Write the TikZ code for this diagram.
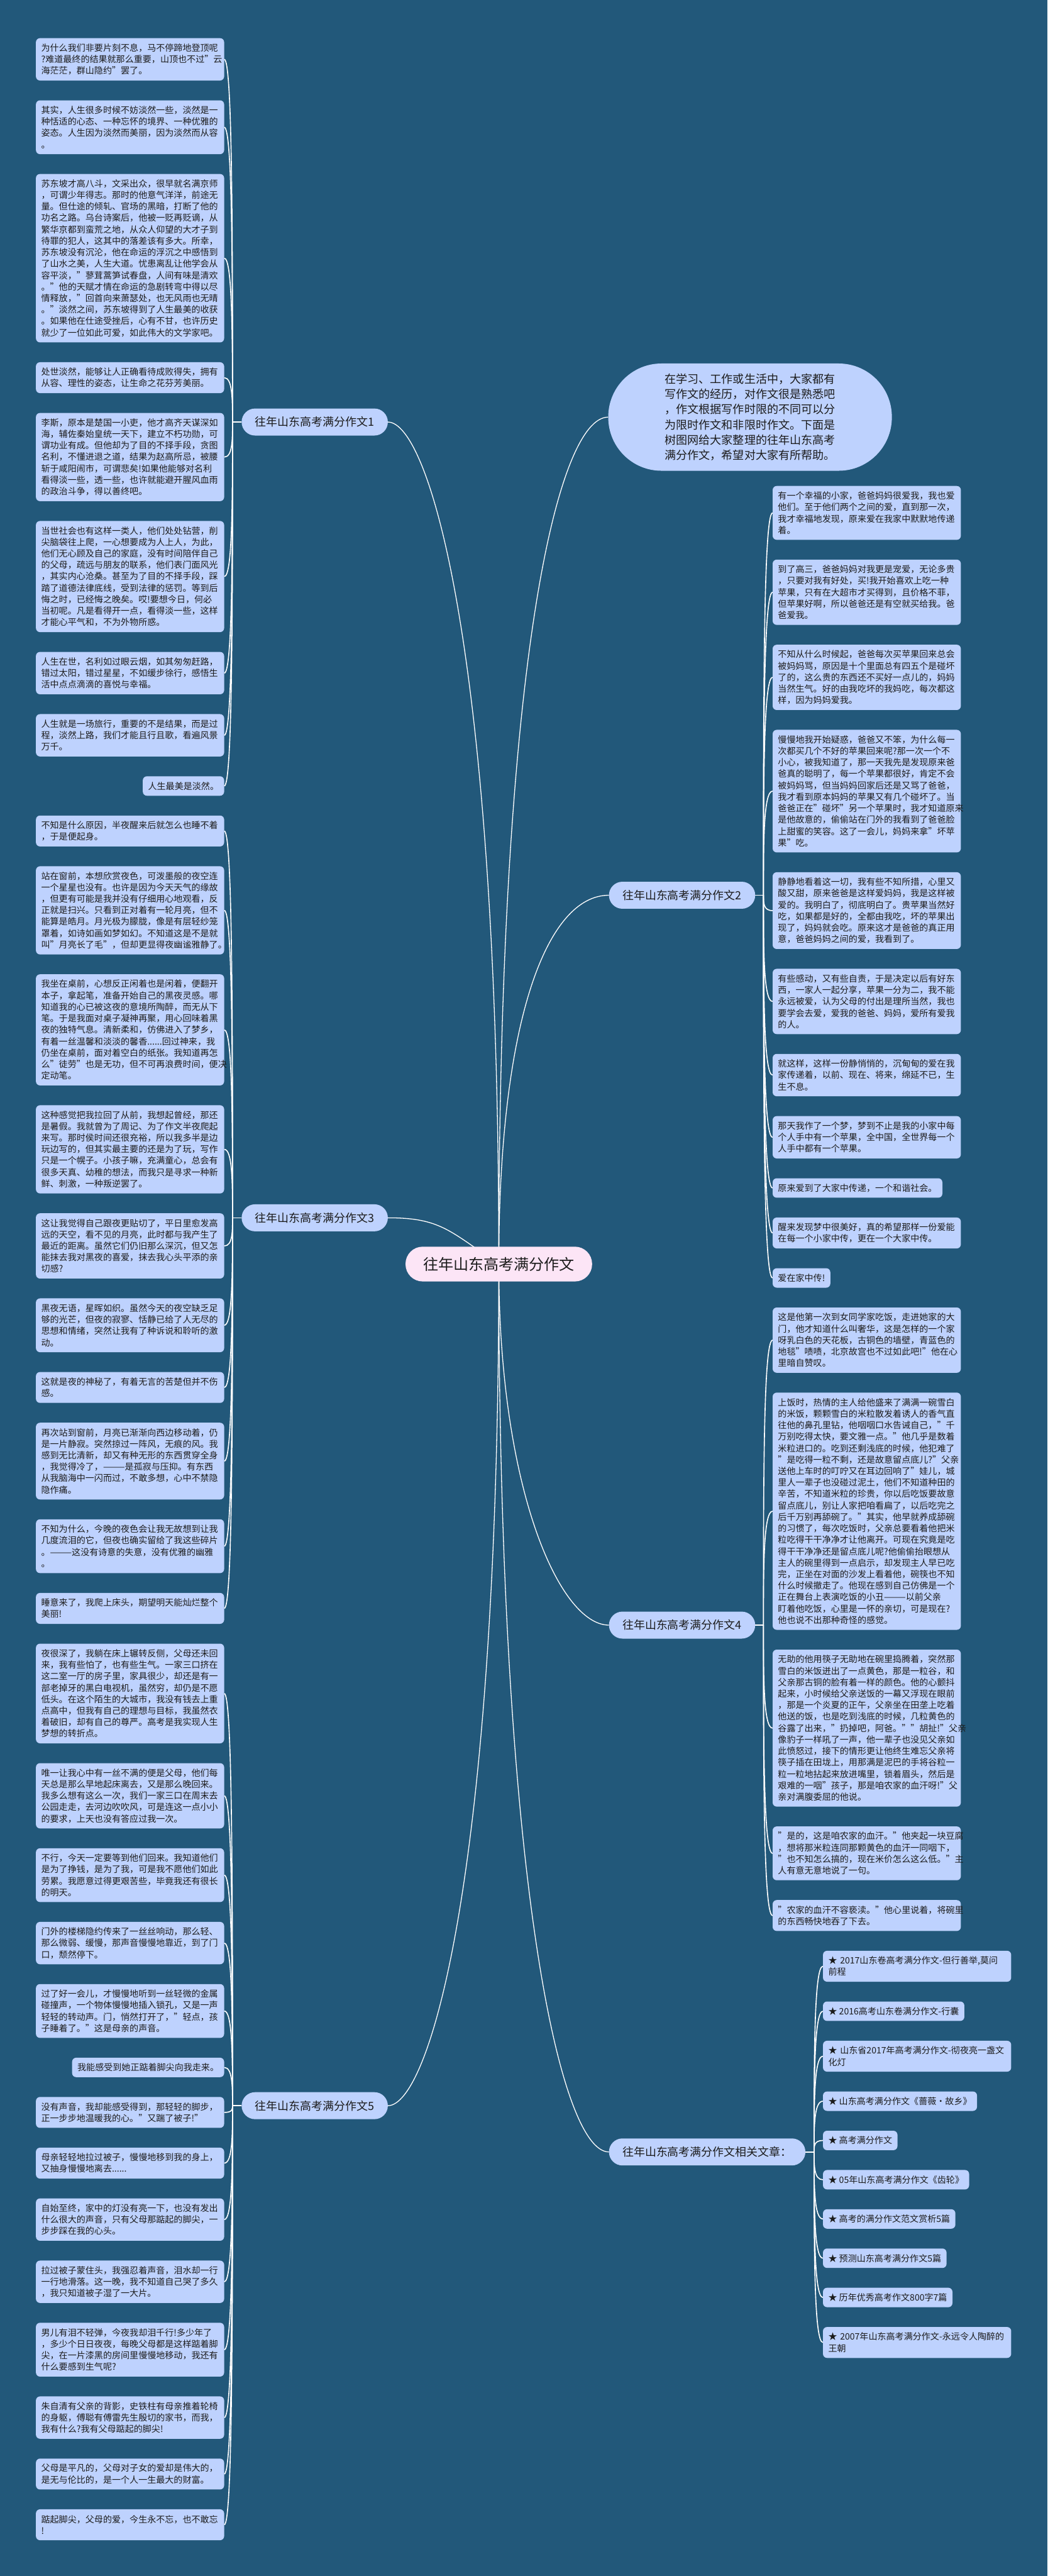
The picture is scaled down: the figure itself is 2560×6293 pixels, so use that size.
\documentclass[tikz,border=0pt]{standalone}
\usepackage{fontspec}
\setmainfont{Noto Sans CJK SC}
\usepackage{tikz}
\usetikzlibrary{positioning,calc}
\definecolor{pageblue}{RGB}{34,88,122}
\definecolor{cardblue}{RGB}{190,210,254}
\definecolor{rootpink}{RGB}{252,229,246}
\definecolor{inkgray}{RGB}{28,28,28}
\pgfdeclarelayer{bg}
\pgfdeclarelayer{wires}
\pgfsetlayers{bg,wires,main}
\tikzset{
	card/.style={fill=cardblue, text=inkgray, rounded corners=10pt, inner xsep=13pt, inner ysep=0pt, align=left, font=\fontsize{21.6}{28}\selectfont},
	leaf/.style={card, text width=434pt, minimum height=28pt*#1+19.5pt},
	short/.style={card, minimum height=47.5pt},
	nextL/.style={below=48pt of #1.south east, anchor=north east},
	nextR/.style={below=48pt of #1.south west, anchor=north west},
	branch/.style={fill=cardblue, text=inkgray, rounded corners=32.9pt, minimum height=66pt, inner xsep=33pt, font=\fontsize{27.6}{33}\selectfont},
	hub/.style={fill=rootpink, text=inkgray, rounded corners=42pt, minimum height=85pt, inner xsep=43pt, font=\fontsize{37}{44}\selectfont},
	intro/.style={fill=cardblue, text=inkgray, rounded corners=130pt, minimum width=693pt, minimum height=262pt, text width=417pt, align=left, font=\fontsize{27.8}{37}\selectfont},
	wire/.style={color=white, line width=2.5pt},
	trunk/.style={color=white, line width=2pt},
	hook/.style={to path={.. controls ($(\tikztostart)!.5!(\tikztostart |- \tikztotarget)$) and (\tikztostart |- \tikztotarget) .. (\tikztotarget)}}
}
\begin{document}
\begin{tikzpicture}[x=1pt,y=-1pt]
	\useasboundingbox (0,0) rectangle (2560,6293);
	\begin{pgfonlayer}{bg}
		\fill[pageblue] (0,0) rectangle (2560,6293);
	\end{pgfonlayer}

	% centre and main branches
	\node[hub] (core) at (1219,3088) {往年山东高考满分作文};
	\node[intro] (intro) at (1833,1019) {在学习、工作或生活中，大家都有\\写作文的经历，对作文很是熟悉吧\\，作文根据写作时限的不同可以分\\为限时作文和非限时作文。下面是\\树图网给大家整理的往年山东高考\\满分作文，希望对大家有所帮助。};
	\node[branch, anchor=east] (b1) at (948,1031) {往年山东高考满分作文1};
	\node[branch, anchor=east] (b3) at (948,2975) {往年山东高考满分作文3};
	\node[branch, anchor=east] (b5) at (948,5144) {往年山东高考满分作文5};
	\node[branch, anchor=west] (b2) at (1488,2187) {往年山东高考满分作文2};
	\node[branch, anchor=west] (b4) at (1488,3970) {往年山东高考满分作文4};
	\node[branch, anchor=west] (bL) at (1488,5257) {往年山东高考满分作文相关文章：};
	\coordinate[left=22pt of b1] (j1);
	\coordinate[left=22pt of b3] (j3);
	\coordinate[left=22pt of b5] (j5);
	\coordinate[right=20pt of b2] (j2);
	\coordinate[right=20pt of b4] (j4);
	\coordinate[right=21pt of bL] (jL);

	% essay 1
	\node[leaf=3, anchor=north east] (l1a) at (548,93) {为什么我们非要片刻不息，马不停蹄地登顶呢\\?难道最终的结果就那么重要，山顶也不过"云\\海茫茫，群山隐约"罢了。};
	\node[leaf=4, nextL=l1a] (l1b) {其实，人生很多时候不妨淡然一些，淡然是一\\种恬适的心态、一种忘怀的境界、一种优雅的\\姿态。人生因为淡然而美丽，因为淡然而从容\\。};
	\node[leaf=14, nextL=l1b] (l1c) {苏东坡才高八斗，文采出众，很早就名满京师\\，可谓少年得志。那时的他意气洋洋，前途无\\量。但仕途的倾轧、官场的黑暗，打断了他的\\功名之路。乌台诗案后，他被一贬再贬谪，从\\繁华京都到蛮荒之地，从众人仰望的大才子到\\待罪的犯人，这其中的落差该有多大。所幸，\\苏东坡没有沉沦，他在命运的浮沉之中感悟到\\了山水之美，人生大道。忧患离乱让他学会从\\容平淡，"蓼茸蒿笋试春盘，人间有味是清欢\\。"他的天赋才情在命运的急剧转弯中得以尽\\情释放，"回首向来萧瑟处，也无风雨也无晴\\。"淡然之间，苏东坡得到了人生最美的收获\\。如果他在仕途受挫后，心有不甘，也许历史\\就少了一位如此可爱，如此伟大的文学家吧。};
	\node[leaf=2, nextL=l1c] (l1d) {处世淡然，能够让人正确看待成败得失，拥有\\从容、理性的姿态，让生命之花芬芳美丽。};
	\node[leaf=7, nextL=l1d] (l1e) {李斯，原本是楚国一小吏，他才高齐天谋深如\\海，辅佐秦始皇统一天下，建立不朽功勋，可\\谓功业有成。但他却为了目的不择手段，贪图\\名利，不懂进退之道，结果为赵高所忌，被腰\\斩于咸阳闹市，可谓悲矣!如果他能够对名利\\看得淡一些，透一些，也许就能避开腥风血雨\\的政治斗争，得以善终吧。};
	\node[leaf=9, nextL=l1e] (l1f) {当世社会也有这样一类人，他们处处钻营，削\\尖脑袋往上爬，一心想要成为人上人，为此，\\他们无心顾及自己的家庭，没有时间陪伴自己\\的父母，疏远与朋友的联系，他们表门面风光\\，其实内心沧桑。甚至为了目的不择手段，踩\\踏了道德法律底线，受到法律的惩罚。等到后\\悔之时，已经悔之晚矣。哎!要想今日，何必\\当初呢。凡是看得开一点，看得淡一些，这样\\才能心平气和，不为外物所惑。};
	\node[leaf=3, nextL=l1f] (l1g) {人生在世，名利如过眼云烟，如其匆匆赶路，\\错过太阳，错过星星，不如缓步徐行，感悟生\\活中点点滴滴的喜悦与幸福。};
	\node[leaf=3, nextL=l1g] (l1h) {人生就是一场旅行，重要的不是结果，而是过\\程，淡然上路，我们才能且行且歌，看遍风景\\万千。};
	\node[short, nextL=l1h] (l1i) {人生最美是淡然。};

	% essay 3
	\node[leaf=2, nextL=l1i] (l3a) {不知是什么原因，半夜醒来后就怎么也睡不着\\，于是便起身。};
	\node[leaf=7, nextL=l3a] (l3b) {站在窗前，本想欣赏夜色，可泼墨般的夜空连\\一个星星也没有。也许是因为今天天气的缘故\\，但更有可能是我并没有仔细用心地观看，反\\正就是扫兴。只看到正对着有一轮月亮，但不\\能算是皓月。月光极为朦胧，像是有层轻纱笼\\罩着，如诗如画如梦如幻。不知道这是不是就\\叫"月亮长了毛"，但却更显得夜幽谧雅静了。};
	\node[leaf=9, nextL=l3b] (l3c) {我坐在桌前，心想反正闲着也是闲着，便翻开\\本子，拿起笔，准备开始自己的黑夜灵感。哪\\知道我的心已被这夜的意境所陶醉，而无从下\\笔。于是我面对桌子凝神再聚，用心回味着黑\\夜的独特气息。清新柔和，仿佛进入了梦乡，\\有着一丝温馨和淡淡的馨香......回过神来，我\\仍坐在桌前，面对着空白的纸张。我知道再怎\\么"徒劳"也是无功，但不可再浪费时间，便决\\定动笔。};
	\node[leaf=7, nextL=l3c] (l3d) {这种感觉把我拉回了从前，我想起曾经，那还\\是暑假。我就曾为了周记、为了作文半夜爬起\\来写。那时侯时间还很充裕，所以我多半是边\\玩边写的，但其实最主要的还是为了玩，写作\\只是一个幌子。小孩子嘛，充满童心，总会有\\很多天真、幼稚的想法，而我只是寻求一种新\\鲜、刺激，一种叛逆罢了。};
	\node[leaf=5, nextL=l3d] (l3e) {这让我觉得自己跟夜更贴切了，平日里愈发高\\远的天空，看不见的月亮，此时都与我产生了\\最近的距离。虽然它们仍旧那么深沉，但又怎\\能抹去我对黑夜的喜爱，抹去我心头平添的亲\\切感?};
	\node[leaf=4, nextL=l3e] (l3f) {黑夜无语，星晖如织。虽然今天的夜空缺乏足\\够的光芒，但夜的寂寥、恬静已给了人无尽的\\思想和情绪，突然让我有了种诉说和聆听的激\\动。};
	\node[leaf=2, nextL=l3f] (l3g) {这就是夜的神秘了，有着无言的苦楚但并不伤\\感。};
	\node[leaf=6, nextL=l3g] (l3h) {再次站到窗前，月亮已渐渐向西边移动着，仍\\是一片静寂。突然掠过一阵风，无痕的风。我\\感到无比清新，却又有种无形的东西贯穿全身\\，我觉得冷了，———是孤寂与压抑。有东西\\从我脑海中一闪而过，不敢多想，心中不禁隐\\隐作痛。};
	\node[leaf=4, nextL=l3h] (l3i) {不知为什么，今晚的夜色会让我无故想到让我\\几度流泪的它，但夜也确实留给了我这些碎片\\。———这没有诗意的失意，没有优雅的幽雅\\。};
	\node[leaf=2, nextL=l3i] (l3j) {睡意来了，我爬上床头，期望明天能灿烂整个\\美丽!};

	% essay 5
	\node[leaf=8, nextL=l3j] (l5a) {夜很深了，我躺在床上辗转反侧，父母还未回\\来，我有些怕了，也有些生气。一家三口挤在\\这二室一厅的房子里，家具很少，却还是有一\\部老掉牙的黑白电视机，虽然穷，却仍是不愿\\低头。在这个陌生的大城市，我没有钱去上重\\点高中，但我有自己的理想与目标，我虽然衣\\着破旧，却有自己的尊严。高考是我实现人生\\梦想的转折点。};
	\node[leaf=5, nextL=l5a] (l5b) {唯一让我心中有一丝不满的便是父母，他们每\\天总是那么早地起床离去，又是那么晚回来。\\我多么想有这么一次，我们一家三口在周末去\\公园走走，去河边吹吹风，可是连这一点小小\\的要求，上天也没有答应过我一次。};
	\node[leaf=4, nextL=l5b] (l5c) {不行，今天一定要等到他们回来。我知道他们\\是为了挣钱，是为了我，可是我不愿他们如此\\劳累。我愿意过得更艰苦些，毕竟我还有很长\\的明天。};
	\node[leaf=3, nextL=l5c] (l5d) {门外的楼梯隐约传来了一丝丝响动，那么轻、\\那么微弱、缓慢，那声音慢慢地靠近，到了门\\口，颓然停下。};
	\node[leaf=4, nextL=l5d] (l5e) {过了好一会儿，才慢慢地听到一丝轻微的金属\\碰撞声，一个物体慢慢地插入锁孔，又是一声\\轻轻的转动声。门，悄然打开了，"轻点，孩\\子睡着了。"这是母亲的声音。};
	\node[short, nextL=l5e] (l5f) {我能感受到她正踮着脚尖向我走来。};
	\node[leaf=2, nextL=l5f] (l5g) {没有声音，我却能感受得到，那轻轻的脚步，\\正一步步地温暖我的心。"又踹了被子!"};
	\node[leaf=2, nextL=l5g] (l5h) {母亲轻轻地拉过被子，慢慢地移到我的身上，\\又抽身慢慢地离去......};
	\node[leaf=3, nextL=l5h] (l5i) {自始至终，家中的灯没有亮一下，也没有发出\\什么很大的声音，只有父母那踮起的脚尖，一\\步步踩在我的心头。};
	\node[leaf=3, nextL=l5i] (l5j) {拉过被子蒙住头，我强忍着声音，泪水却一行\\一行地滑落。这一晚，我不知道自己哭了多久\\，我只知道被子湿了一大片。};
	\node[leaf=4, nextL=l5j] (l5k) {男儿有泪不轻弹，今夜我却泪千行!多少年了\\，多少个日日夜夜，每晚父母都是这样踮着脚\\尖，在一片漆黑的房间里慢慢地移动，我还有\\什么要感到生气呢?};
	\node[leaf=3, nextL=l5k] (l5l) {朱自清有父亲的背影，史铁柱有母亲推着轮椅\\的身躯，傅聪有傅雷先生殷切的家书，而我，\\我有什么?我有父母踮起的脚尖!};
	\node[leaf=2, nextL=l5l] (l5m) {父母是平凡的，父母对子女的爱却是伟大的，\\是无与伦比的，是一个人一生最大的财富。};
	\node[leaf=2, nextL=l5m] (l5n) {踮起脚尖，父母的爱，今生永不忘，也不敢忘\\!};

	% essay 2
	\node[leaf=4, anchor=north west] (r2a) at (1888,1187) {有一个幸福的小家，爸爸妈妈很爱我，我也爱\\他们。至于他们两个之间的爱，直到那一次，\\我才幸福地发现，原来爱在我家中默默地传递\\着。};
	\node[leaf=5, nextR=r2a] (r2b) {到了高三，爸爸妈妈对我更是宠爱，无论多贵\\，只要对我有好处，买!我开始喜欢上吃一种\\苹果，只有在大超市才买得到，且价格不菲，\\但苹果好啊，所以爸爸还是有空就买给我。爸\\爸爱我。};
	\node[leaf=5, nextR=r2b] (r2c) {不知从什么时候起，爸爸每次买苹果回来总会\\被妈妈骂，原因是十个里面总有四五个是碰坏\\了的，这么贵的东西还不买好一点儿的，妈妈\\当然生气。好的由我吃坏的我妈吃，每次都这\\样，因为妈妈爱我。};
	\node[leaf=10, nextR=r2c] (r2d) {慢慢地我开始疑惑，爸爸又不笨，为什么每一\\次都买几个不好的苹果回来呢?那一次一个不\\小心，被我知道了，那一天我先是发现原来爸\\爸真的聪明了，每一个苹果都很好，肯定不会\\被妈妈骂，但当妈妈回家后还是又骂了爸爸，\\我才看到原本妈妈的苹果又有几个碰坏了。当\\爸爸正在"碰坏"另一个苹果时，我才知道原来\\是他故意的，偷偷站在门外的我看到了爸爸脸\\上甜蜜的笑容。这了一会儿，妈妈来拿"坏苹\\果"吃。};
	\node[leaf=6, nextR=r2d] (r2e) {静静地看着这一切，我有些不知所措，心里又\\酸又甜，原来爸爸是这样爱妈妈，我是这样被\\爱的。我明白了，彻底明白了。贵苹果当然好\\吃，如果都是好的，全都由我吃，坏的苹果出\\现了，妈妈就会吃。原来这才是爸爸的真正用\\意，爸爸妈妈之间的爱，我看到了。};
	\node[leaf=5, nextR=r2e] (r2f) {有些感动，又有些自责，于是决定以后有好东\\西，一家人一起分享，苹果一分为二，我不能\\永远被爱，认为父母的付出是理所当然，我也\\要学会去爱，爱我的爸爸、妈妈，爱所有爱我\\的人。};
	\node[leaf=3, nextR=r2f] (r2g) {就这样，这样一份静悄悄的，沉甸甸的爱在我\\家传递着，以前、现在、将来，绵延不已，生\\生不息。};
	\node[leaf=3, nextR=r2g] (r2h) {那天我作了一个梦，梦到不止是我的小家中每\\个人手中有一个苹果，全中国，全世界每一个\\人手中都有一个苹果。};
	\node[short, nextR=r2h] (r2i) {原来爱到了大家中传递，一个和谐社会。};
	\node[leaf=2, nextR=r2i] (r2j) {醒来发现梦中很美好，真的希望那样一份爱能\\在每一个小家中传，更在一个大家中传。};
	\node[short, nextR=r2j] (r2k) {爱在家中传!};

	% essay 4
	\node[leaf=5, nextR=r2k] (r4a) {这是他第一次到女同学家吃饭，走进她家的大\\门，他才知道什么叫奢华，这是怎样的一个家\\呀乳白色的天花板，古铜色的墙壁，青蓝色的\\地毯"啧啧，北京故宫也不过如此吧!"他在心\\里暗自赞叹。};
	\node[leaf=20, nextR=r4a] (r4b) {上饭时，热情的主人给他盛来了满满一碗雪白\\的米饭，颗颗雪白的米粒散发着诱人的香气直\\往他的鼻孔里钻，他咽咽口水告诫自己，"千\\万别吃得太快，要文雅一点。"他几乎是数着\\米粒进口的。吃到还剩浅底的时候，他犯难了\\"是吃得一粒不剩，还是故意留点底儿?"父亲\\送他上车时的叮咛又在耳边回响了"娃儿，城\\里人一辈子也没碰过泥土，他们不知道种田的\\辛苦，不知道米粒的珍贵，你以后吃饭要故意\\留点底儿，别让人家把咱看扁了，以后吃完之\\后千万别再舔碗了。"其实，他早就养成舔碗\\的习惯了，每次吃饭时，父亲总要看着他把米\\粒吃得干干净净才让他离开。可现在究竟是吃\\得干干净净还是留点底儿呢?他偷偷抬眼想从\\主人的碗里得到一点启示，却发现主人早已吃\\完，正坐在对面的沙发上看着他，碗筷也不知\\什么时候撤走了。他现在感到自己仿佛是一个\\正在舞台上表演吃饭的小丑———以前父亲\\盯着他吃饭，心里是一怀的亲切，可是现在?\\他也说不出那种奇怪的感觉。};
	\node[leaf=13, nextR=r4b] (r4c) {无助的他用筷子无助地在碗里捣腾着，突然那\\雪白的米饭迸出了一点黄色，那是一粒谷，和\\父亲那古铜的脸有着一样的颜色。他的心颤抖\\起来，小时候给父亲送饭的一幕又浮现在眼前\\，那是一个炎夏的正午，父亲坐在田垄上吃着\\他送的饭，也是吃到浅底的时候，几粒黄色的\\谷露了出来，"扔掉吧，阿爸。""胡扯!"父亲\\像豹子一样吼了一声，他一辈子也没见父亲如\\此愤怒过，接下的情形更让他终生难忘父亲将\\筷子插在田垅上，用那满是泥巴的手将谷粒一\\粒一粒地拈起来放进嘴里，锁着眉头，然后是\\艰难的一咽"孩子，那是咱农家的血汗呀!"父\\亲对满腹委屈的他说。};
	\node[leaf=4, nextR=r4c] (r4d) {"是的，这是咱农家的血汗。"他夹起一块豆腐\\，想将那米粒连同那颗黄色的血汗一同咽下，\\"也不知怎么搞的，现在米价怎么这么低。"主\\人有意无意地说了一句。};
	\node[leaf=2, nextR=r4d] (r4e) {"农家的血汗不容亵渎。"他心里说着，将碗里\\的东西畅快地吞了下去。};

	% related articles
	\node[leaf=2, below right=48pt and 123pt of r4e.south west, anchor=north west] (rLa) {★~2017山东卷高考满分作文-但行善举,莫问\\前程};
	\node[short, nextR=rLa] (rLb) {★~2016高考山东卷满分作文-行囊};
	\node[leaf=2, nextR=rLb] (rLc) {★~山东省2017年高考满分作文-彻夜亮一盏文\\化灯};
	\node[short, nextR=rLc] (rLd) {★~山东高考满分作文《蔷薇·故乡》};
	\node[short, nextR=rLd] (rLe) {★~高考满分作文};
	\node[short, nextR=rLe] (rLf) {★~05年山东高考满分作文《齿轮》};
	\node[short, nextR=rLf] (rLg) {★~高考的满分作文范文赏析5篇};
	\node[short, nextR=rLg] (rLh) {★~预测山东高考满分作文5篇};
	\node[short, nextR=rLh] (rLi) {★~历年优秀高考作文800字7篇};
	\node[leaf=2, nextR=rLi] (rLj) {★~2007年山东高考满分作文-永远令人陶醉的\\王朝};

	\begin{pgfonlayer}{wires}
		\draw[trunk] (core.center) .. controls +(0,-1500) and +(100,0) .. (b1.east);
		\draw[trunk] (core.center) .. controls +(-120,-80) and +(130,0) .. (b3.east);
		\draw[trunk] (core.center) .. controls +(0,1500) and +(100,0) .. (b5.east);
		\draw[trunk] (core.center) .. controls +(0,-1500) and +(-120,0) .. (intro.west);
		\draw[trunk] (core.center) .. controls +(0,-600) and +(-150,0) .. (b2.west);
		\draw[trunk] (core.center) .. controls +(0,550) and +(-120,0) .. (b4.west);
		\draw[trunk] (core.center) .. controls +(0,1500) and +(-120,0) .. (bL.west);
		\draw[wire] (b1) -- (j1) (b3) -- (j3) (b5) -- (j5) (b2) -- (j2) (b4) -- (j4) (bL) -- (jL);
		\path[wire]
		(j1) edge[hook] (l1a.east) edge[hook] (l1b.east) edge[hook] (l1c.east)
			edge[hook] (l1d.east) edge[hook] (l1e.east) edge[hook] (l1f.east)
			edge[hook] (l1g.east) edge[hook] (l1h.east) edge[hook] (l1i.east)
		(j3) edge[hook] (l3a.east) edge[hook] (l3b.east) edge[hook] (l3c.east)
			edge[hook] (l3d.east) edge[hook] (l3e.east) edge[hook] (l3f.east)
			edge[hook] (l3g.east) edge[hook] (l3h.east) edge[hook] (l3i.east)
			edge[hook] (l3j.east)
		(j5) edge[hook] (l5a.east) edge[hook] (l5b.east) edge[hook] (l5c.east)
			edge[hook] (l5d.east) edge[hook] (l5e.east) edge[hook] (l5f.east)
			edge[hook] (l5g.east) edge[hook] (l5h.east) edge[hook] (l5i.east)
			edge[hook] (l5j.east) edge[hook] (l5k.east) edge[hook] (l5l.east)
			edge[hook] (l5m.east) edge[hook] (l5n.east)
		(j2) edge[hook] (r2a.west) edge[hook] (r2b.west) edge[hook] (r2c.west)
			edge[hook] (r2d.west) edge[hook] (r2e.west) edge[hook] (r2f.west)
			edge[hook] (r2g.west) edge[hook] (r2h.west) edge[hook] (r2i.west)
			edge[hook] (r2j.west) edge[hook] (r2k.west)
		(j4) edge[hook] (r4a.west) edge[hook] (r4b.west) edge[hook] (r4c.west)
			edge[hook] (r4d.west) edge[hook] (r4e.west)
		(jL) edge[hook] (rLa.west) edge[hook] (rLb.west) edge[hook] (rLc.west)
			edge[hook] (rLd.west) edge[hook] (rLe.west) edge[hook] (rLf.west)
			edge[hook] (rLg.west) edge[hook] (rLh.west) edge[hook] (rLi.west)
			edge[hook] (rLj.west);
	\end{pgfonlayer}
\end{tikzpicture}
\end{document}
